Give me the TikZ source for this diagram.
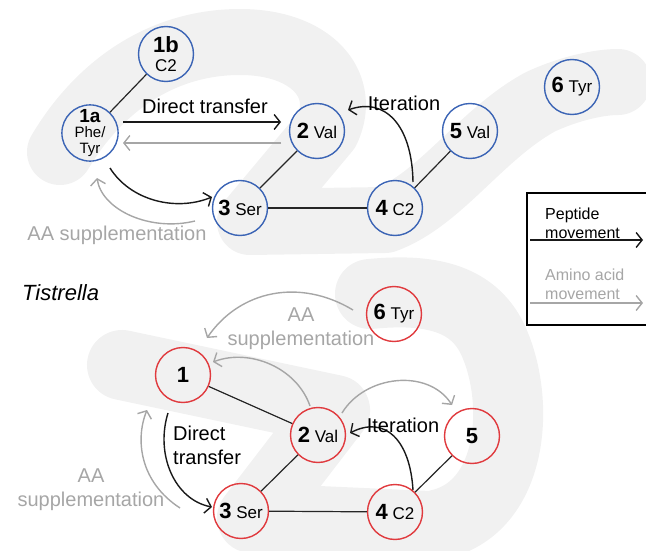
\documentclass[tikz,border=0pt]{standalone}
\usepackage{fontspec}
\setmainfont{Liberation Sans}
\usetikzlibrary{arrows.meta,calc}
\definecolor{nodeblue}{HTML}{3B64B5}
\definecolor{nodered}{HTML}{E03A3E}
\definecolor{swoosh}{HTML}{F1F1F1}
\definecolor{aagray}{HTML}{A6A6A6}
\newcommand\bnum[1]{{\bfseries\fontsize{22}{20}\selectfont #1}}
\begin{document}
\begin{tikzpicture}[x=1pt,y=-1pt,
  bnode/.style={circle, draw=nodeblue, line width=1.4pt, minimum size=55pt, inner sep=0pt, align=center, font=\fontsize{17}{19}\selectfont},
  rnode/.style={bnode, draw=nodered},
  edge/.style={line width=1.2pt, draw=black!85},
  pep/.style={line width=1.4pt, draw=black!90, -{Straight Barb[length=6pt,width=15pt]}},
  aa/.style={pep, draw=aagray},
  lbl/.style={inner sep=0pt, font=\fontsize{20}{24}\selectfont},
  aalbl/.style={lbl, text=aagray, align=center},
  leg/.style={inner sep=0pt, font=\fontsize{16}{19}\selectfont, align=left, anchor=west},
  band/.style={draw=swoosh, line cap=round, line join=round}]
\useasboundingbox (0,0) rectangle (646,551);
% background swooshes
\draw[band, line width=66pt] (60,152) .. controls (98,88) and (160,42) .. (240,42)
  .. controls (312,42) and (348,85) .. (327,130)
  -- (250,222) -- (385,220)
  .. controls (440,200) and (480,135) .. (540,102)
  .. controls (570,88) and (600,82) .. (618,82);
\draw[band, line width=70pt] (122,365) -- (335,410) -- (252,518) -- (430,526)
  .. controls (515,515) and (522,400) .. (492,338)
  .. controls (472,298) and (430,288) .. (370,294);
% top nodes
\node[bnode] (t1b) at (166,54) {\bnum{1b}\\C2};
\node[bnode, font=\fontsize{15}{15.5}\selectfont] (t1a) at (90,133) {{\bfseries\fontsize{19}{15.5}\selectfont 1a}\\Phe/\\Tyr};
\node[bnode] (t2) at (317,131) {\bnum{2} Val};
\node[bnode] (t3) at (240,208) {\bnum{3} Ser};
\node[bnode] (t4) at (395,208) {\bnum{4} C2};
\node[bnode] (t5) at (470,131) {\bnum{5} Val};
\node[bnode] (t6) at (572,87) {\bnum{6} Tyr};
\draw[edge] (t1a) -- (t1b);
\draw[edge] (t2) -- (t3);
\draw[edge] (t3) -- (t4);
\draw[edge] (t4) -- (t5);
\draw[pep] ($(t1a)+(33,-11)$) -- ($(t2)+(-36,-9)$);
\draw[aa] ($(t2)+(-36,12)$) -- ($(t1a)+(33,10)$);
\draw[pep] ($(t1a)+(20,35)$) .. controls +(20,32) and +(-37,15) .. ($(t3)+(-28,-11)$);
\draw[aa] ($(t3)+(-45,13)$) .. controls +(-45,11) and +(5,32) .. ($(t1a)+(7,45)$);
\draw[pep] ($(t4)+(18,-26)$) .. controls +(-1,-57) and +(37,-13) .. ($(t2)+(31,-21)$);
\node[lbl] (tdt) at (205,106) {Direct transfer};
\node[aalbl] (taa) at (117,235) {AA supplementation};
\node[lbl] (tit) at (404,103) {Iteration};
% legend
\draw[line width=1.8pt] (646,193) -- (527,193) -- (527,325) -- (646,325);
\node[leg] (lpep) at (545,223) {Peptide\\movement};
\coordinate (lp1) at (530,240);
\coordinate (lp2) at (643,240);
\draw[pep] (lp1) -- (lp2);
\node[leg, text=aagray] (laa) at (545,284) {Amino acid\\movement};
\coordinate (la1) at (530,303);
\coordinate (la2) at (643,303);
\draw[aa] (la1) -- (la2);
% Tistrella
\node[inner sep=0pt, anchor=west, font=\fontsize{22}{24}\selectfont\itshape] (tis) at (22,293) {Tistrella};
% bottom nodes
\node[rnode] (b1) at (183,375) {\bnum{1}};
\node[rnode] (b2) at (318,435) {\bnum{2} Val};
\node[rnode] (b3) at (241,511) {\bnum{3} Ser};
\node[rnode] (b4) at (395,512) {\bnum{4} C2};
\node[rnode] (b5) at (472,436) {\bnum{5}};
\node[rnode] (b6) at (394,314) {\bnum{6} Tyr};
\draw[edge] (b1) -- (b2);
\draw[edge] (b2) -- (b3);
\draw[edge] (b3) -- (b4);
\draw[edge] (b4) -- (b5);
\draw[aa] ($(b6)+(-41,-4)$) .. controls +(-53,-32) and +(33,-48) .. ($(b1)+(24,-37)$);
\draw[aa] ($(b2)+(-8,-29)$) .. controls +(-13,-38) and +(37,-14) .. ($(b1)+(30,-13)$);
\draw[aa] ($(b2)+(24,-22)$) .. controls +(23,-38) and +(-24,-37) .. ($(b5)+(-20,-31)$);
\draw[pep] ($(b4)+(18,-22)$) .. controls +(-3,-50) and +(35,-18) .. ($(b2)+(32,-2)$);
\draw[pep] ($(b1)+(-15,38)$) .. controls +(-13,42) and +(-37,-7) .. ($(b3)+(-29,-4)$);
\draw[aa] ($(b3)+(-61,-3)$) .. controls +(-40,-26) and +(-12,30) .. ($(b1)+(-36,35)$);
\node[aalbl] (baa1) at (301,329) {AA\\supplementation};
\node[lbl, align=left, anchor=west] (bdt) at (173,445) {Direct\\transfer};
\node[lbl] (bit) at (403,425) {Iteration};
\node[aalbl] (baa2) at (91,490) {AA\\supplementation};
\end{tikzpicture}
\end{document}
